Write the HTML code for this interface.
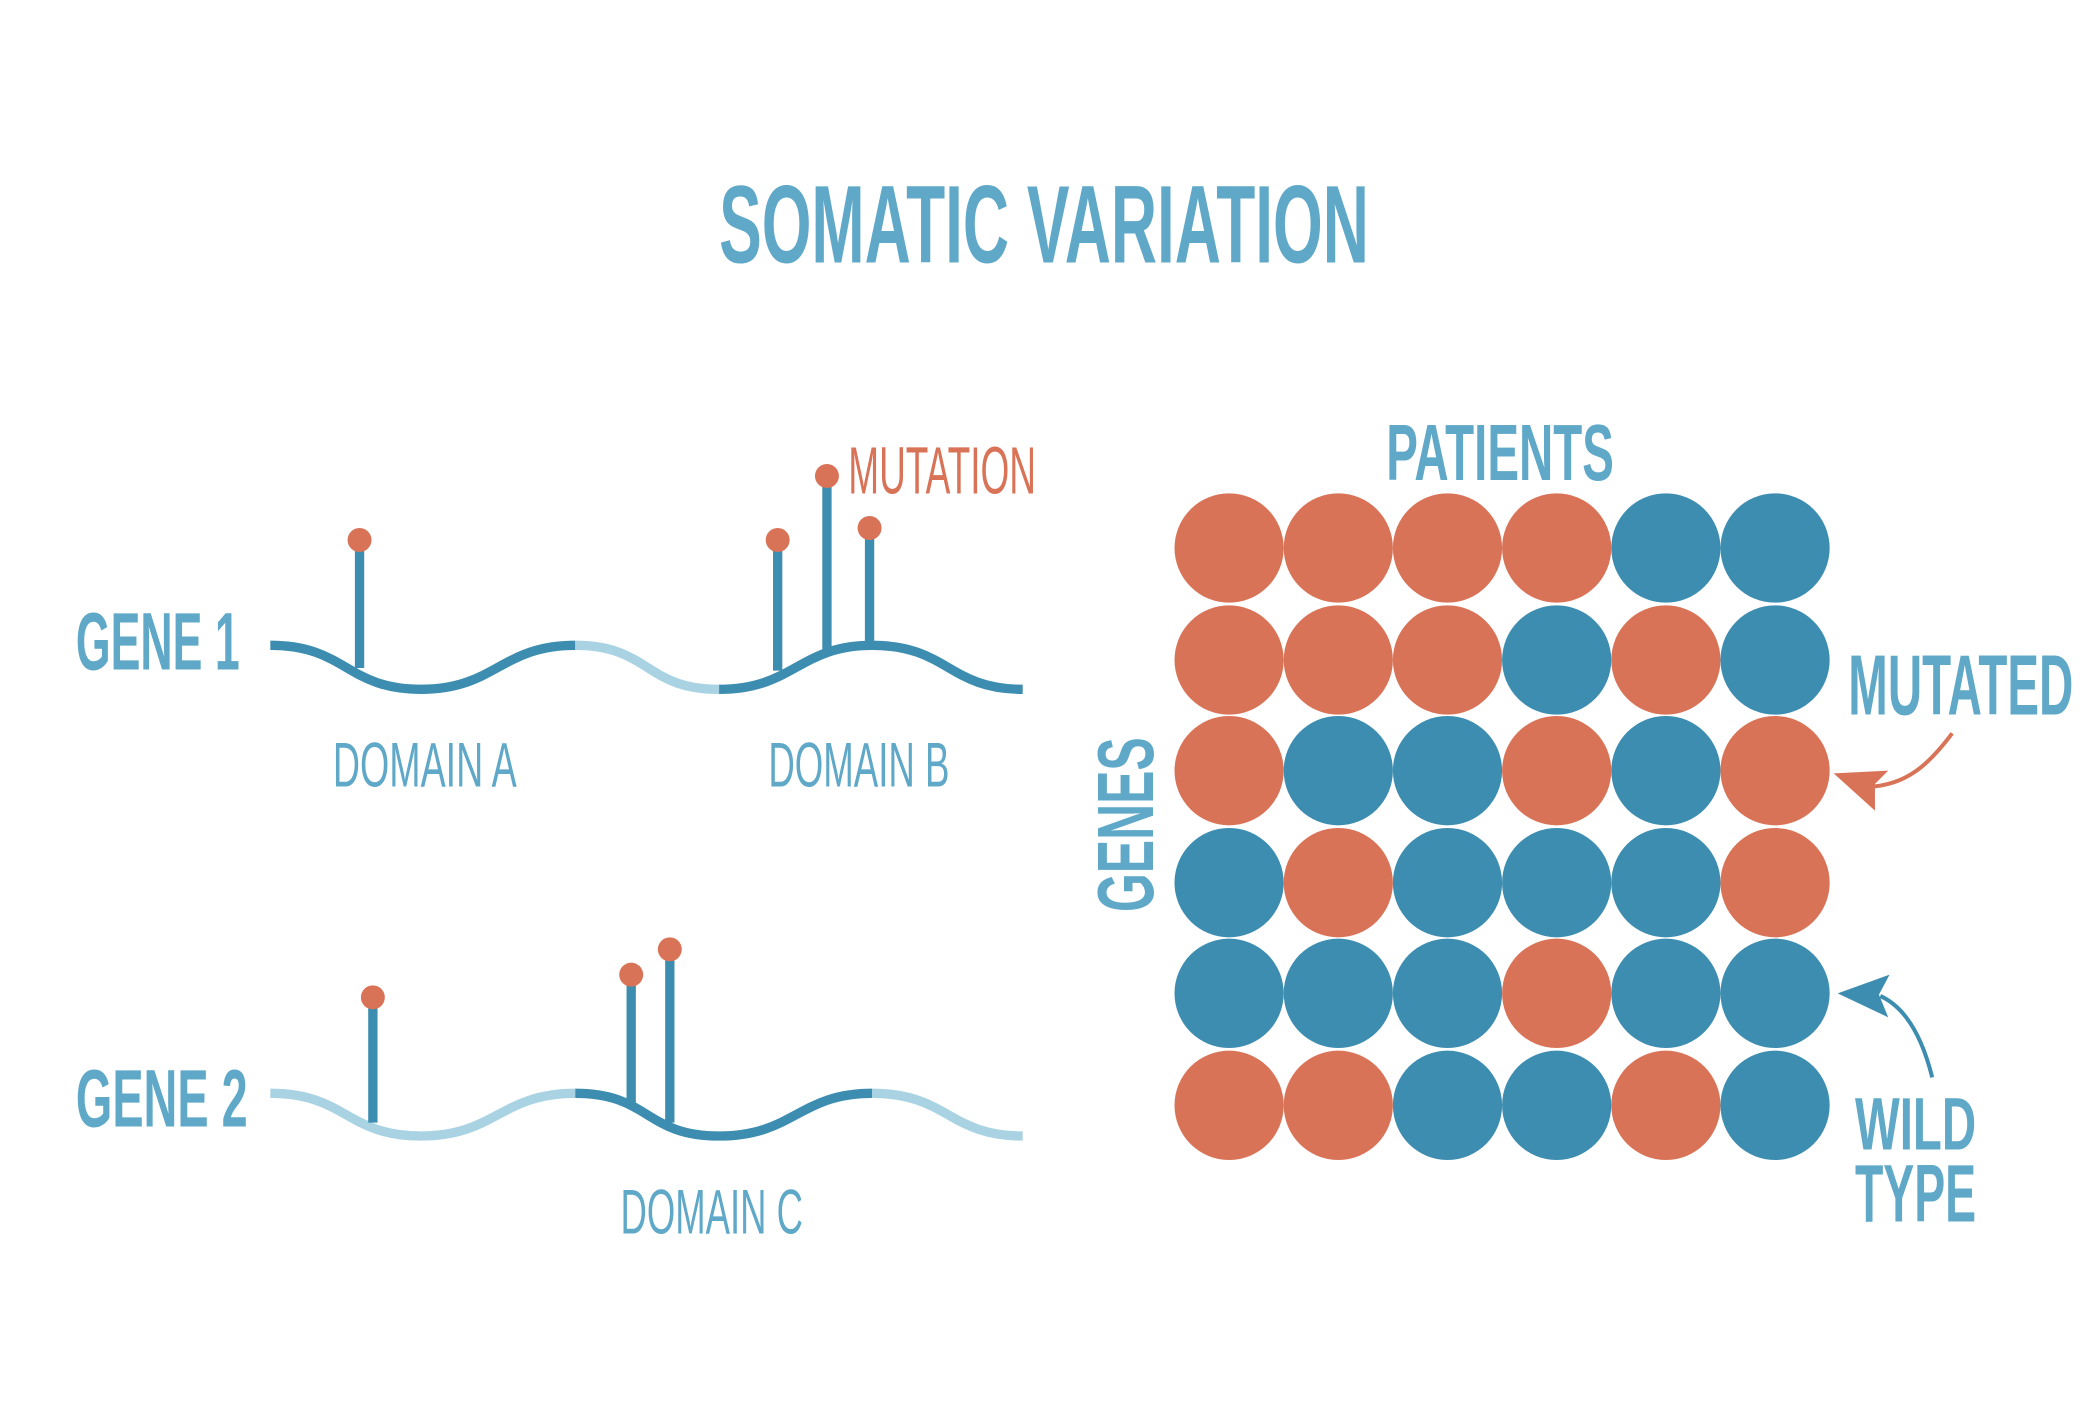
<!DOCTYPE html>
<html><head><meta charset="utf-8"><style>
html,body{margin:0;padding:0;background:#fff;}
svg{display:block;}
text{font-family:"Liberation Sans",sans-serif;}
.b{font-weight:bold;}
</style></head><body>
<svg width="2088" height="1416" viewBox="0 0 1568 1062" preserveAspectRatio="none" xmlns="http://www.w3.org/2000/svg">
<rect width="1568" height="1062" fill="#fff"/>
<text class="b" x="540" y="197" font-size="83" fill="#5FA8C8" textLength="488" lengthAdjust="spacingAndGlyphs">SOMATIC VARIATION</text>

<g fill="none" stroke-width="7">
<path d="M203,484 C260,484 260,517 316,517 C372,517 376,484 432,484" stroke="#3D8DB0"/>
<path d="M432,484 C488,484 484,517 540,517" stroke="#A9D3E3"/>
<path d="M540,517 C596,517 600,484 655,484 C712,484 712,517 768,517" stroke="#3D8DB0"/>
<path d="M203,820 C260,820 260,852 316,852 C372,852 376,820 432,820" stroke="#A9D3E3"/>
<path d="M432,820 C488,820 484,852 540,852 C596,852 600,820 655,820" stroke="#3D8DB0"/>
<path d="M655,820 C712,820 712,852 768,852" stroke="#A9D3E3"/>
</g>
<g stroke="#3D8DB0" stroke-width="7">
<line x1="270" y1="405" x2="270" y2="501"/>
<line x1="584" y1="405" x2="584" y2="503"/>
<line x1="621" y1="357" x2="621" y2="488"/>
<line x1="653" y1="396" x2="653" y2="484"/>
<line x1="280" y1="748" x2="280" y2="842"/>
<line x1="474" y1="731" x2="474" y2="828"/>
<line x1="503" y1="712" x2="503" y2="842"/>
</g>
<g fill="#D97357">
<circle cx="270" cy="405" r="9"/><circle cx="584" cy="405" r="9"/><circle cx="621" cy="357" r="9"/><circle cx="653" cy="396" r="9"/>
<circle cx="280" cy="748" r="9"/><circle cx="474" cy="731" r="9"/><circle cx="503" cy="712" r="9"/>
</g>
<g fill="#5FA8C8">
<text class="b" x="57" y="502" font-size="61" textLength="123" lengthAdjust="spacingAndGlyphs">GENE 1</text>
<text class="b" x="57" y="845" font-size="61" textLength="129" lengthAdjust="spacingAndGlyphs">GENE 2</text>
<text x="250" y="590" font-size="47" textLength="138" lengthAdjust="spacingAndGlyphs">DOMAIN A</text>
<text x="577" y="590" font-size="47" textLength="136" lengthAdjust="spacingAndGlyphs">DOMAIN B</text>
<text x="466" y="925" font-size="47" textLength="137" lengthAdjust="spacingAndGlyphs">DOMAIN C</text>
<text class="b" x="1041" y="360" font-size="60" textLength="171" lengthAdjust="spacingAndGlyphs">PATIENTS</text>
<text class="b" x="1388" y="536" font-size="64" textLength="169" lengthAdjust="spacingAndGlyphs">MUTATED</text>
<text class="b" x="1393" y="862" font-size="56" textLength="91" lengthAdjust="spacingAndGlyphs">WILD</text>
<text class="b" x="1393" y="916" font-size="61" textLength="91" lengthAdjust="spacingAndGlyphs">TYPE</text>
<text class="b" transform="translate(866,684) rotate(-90)" font-size="60" textLength="131" lengthAdjust="spacingAndGlyphs">GENES</text>
</g>
<text x="637" y="370" font-size="50" fill="#D97357" textLength="141" lengthAdjust="spacingAndGlyphs">MUTATION</text>

<g>
<circle cx="923" cy="411" r="41" fill="#D97357"/><circle cx="1005" cy="411" r="41" fill="#D97357"/><circle cx="1087" cy="411" r="41" fill="#D97357"/><circle cx="1169" cy="411" r="41" fill="#D97357"/><circle cx="1251" cy="411" r="41" fill="#3D8DB0"/><circle cx="1333" cy="411" r="41" fill="#3D8DB0"/>
<circle cx="923" cy="495" r="41" fill="#D97357"/><circle cx="1005" cy="495" r="41" fill="#D97357"/><circle cx="1087" cy="495" r="41" fill="#D97357"/><circle cx="1169" cy="495" r="41" fill="#3D8DB0"/><circle cx="1251" cy="495" r="41" fill="#D97357"/><circle cx="1333" cy="495" r="41" fill="#3D8DB0"/>
<circle cx="923" cy="578" r="41" fill="#D97357"/><circle cx="1005" cy="578" r="41" fill="#3D8DB0"/><circle cx="1087" cy="578" r="41" fill="#3D8DB0"/><circle cx="1169" cy="578" r="41" fill="#D97357"/><circle cx="1251" cy="578" r="41" fill="#3D8DB0"/><circle cx="1333" cy="578" r="41" fill="#D97357"/>
<circle cx="923" cy="662" r="41" fill="#3D8DB0"/><circle cx="1005" cy="662" r="41" fill="#D97357"/><circle cx="1087" cy="662" r="41" fill="#3D8DB0"/><circle cx="1169" cy="662" r="41" fill="#3D8DB0"/><circle cx="1251" cy="662" r="41" fill="#3D8DB0"/><circle cx="1333" cy="662" r="41" fill="#D97357"/>
<circle cx="923" cy="745" r="41" fill="#3D8DB0"/><circle cx="1005" cy="745" r="41" fill="#3D8DB0"/><circle cx="1087" cy="745" r="41" fill="#3D8DB0"/><circle cx="1169" cy="745" r="41" fill="#D97357"/><circle cx="1251" cy="745" r="41" fill="#3D8DB0"/><circle cx="1333" cy="745" r="41" fill="#3D8DB0"/>
<circle cx="923" cy="829" r="41" fill="#D97357"/><circle cx="1005" cy="829" r="41" fill="#D97357"/><circle cx="1087" cy="829" r="41" fill="#3D8DB0"/><circle cx="1169" cy="829" r="41" fill="#3D8DB0"/><circle cx="1251" cy="829" r="41" fill="#D97357"/><circle cx="1333" cy="829" r="41" fill="#3D8DB0"/>
</g>

<path d="M1466,550 C1448,574 1432,588 1405,590" fill="none" stroke="#D97357" stroke-width="3"/>
<polygon points="1377,580 1418,578 1408,588 1408,608" fill="#D97357"/>
<path d="M1451,808 C1444,780 1432,756 1412,747" fill="none" stroke="#3D8DB0" stroke-width="3"/>
<polygon points="1380,745 1419,731 1411,746 1418,763" fill="#3D8DB0"/>
</svg>
</body></html>
